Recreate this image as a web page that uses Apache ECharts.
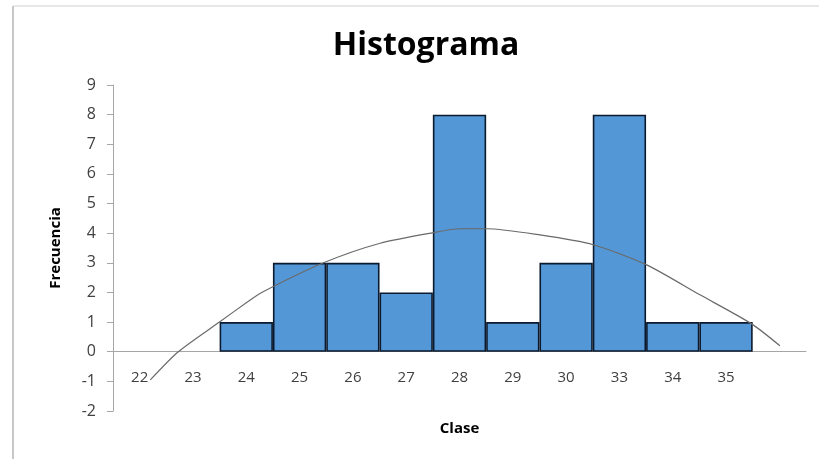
<!DOCTYPE html>
<html>
<head>
<meta charset="utf-8">
<script src="https://cdn.jsdelivr.net/npm/echarts@6/dist/echarts.min.js"></script>
<style>
  html, body { margin: 0; padding: 0; background: #fff; }
  #chart_container { width: 819px; height: 459px; }
</style>
</head>
<body>
<div id="chart_container"></div>
<script>
"use strict";

// histogram data
const clases = ['22', '23', '24', '25', '26', '27', '28', '29', '30', '33', '34', '35', ''];
const frecuencias = [0, 0, 1, 3, 3, 2, 8, 1, 3, 8, 1, 1, null];
const yTicks = { min: -2, max: 9, step: 1 };

// fitted curve, [category position, value]
const curvaX = [0.2, 0.725, 1.51, 2.04, 2.29, 3.45, 4.51, 5.51, 6.01, 6.51, 7.51, 8.51, 9.51, 10.51, 11.48, 12.01];
const curvaY = [-0.95, 0, 1.02, 1.7, 2.0, 3.0, 3.66, 4.02, 4.15, 4.15, 3.94, 3.61, 2.93, 1.92, 0.94, 0.2];

const txt = '#404040';
const fontFam = '"Open Sans", "Noto Sans", sans-serif';

let optEchart = {
    animation: false,
    backgroundColor: '#fff',
    title: {
        text: 'Histograma',
        left: 421, top: 25, textAlign: 'center',
        textStyle: { fontFamily: fontFam, fontSize: 32, fontWeight: 'bold', color: '#000' }
    },
    graphic: [
        { type: 'line', shape: { x1: 13, y1: 6, x2: 13, y2: 459 }, style: { stroke: '#c8c8c8', lineWidth: 2 } },
        { type: 'line', shape: { x1: 13, y1: 6, x2: 819, y2: 6 }, style: { stroke: '#d0d0d0', lineWidth: 1 } }
    ],
    grid: { left: 113, right: 13, top: 85, bottom: 48, outerBoundsMode: 'none', containLabel: false },
    xAxis: [{
        type: 'category',
        data: clases,
        name: 'Clase',
        nameLocation: 'middle',
        nameGap: 10,
        nameTextStyle: { fontFamily: fontFam, fontSize: 15, fontWeight: 'bold', color: '#000' },
        axisLine: { onZero: true, lineStyle: { color: '#a6a6a6', width: 1 } },
        axisTick: { show: false },
        axisLabel: { margin: -41, fontFamily: fontFam, fontSize: 15, color: txt, interval: 0 },
        splitLine: { show: false }
    }, {
        type: 'value',
        min: -0.5, max: 12.5,
        show: false
    }],
    yAxis: {
        type: 'value',
        min: yTicks.min, max: yTicks.max, interval: yTicks.step,
        name: 'Frecuencia',
        nameLocation: 'middle',
        nameGap: 50,
        nameRotate: 90,
        nameTextStyle: { fontFamily: fontFam, fontSize: 15, fontWeight: 'bold', color: '#000' },
        axisLine: { show: true, onZero: false, lineStyle: { color: '#a6a6a6' } },
        axisTick: { show: true, length: 6, lineStyle: { color: '#a6a6a6' } },
        axisLabel: { margin: 17, fontFamily: fontFam, fontSize: 16, color: txt },
        splitLine: { show: false }
    },
    series: [{
        type: 'bar',
        data: frecuencias.map(v => (v === 0 ? null : v)),
        xAxisIndex: 0,
        barCategoryGap: 0,
        itemStyle: { color: '#5497d6', borderColor: '#0b1a2e', borderWidth: 1.6 }
    }, {
        type: 'line',
        xAxisIndex: 1,
        data: curvaX.map((x, i) => [x, curvaY[i]]),
        smooth: 0.25,
        showSymbol: false,
        lineStyle: { color: '#6a6a6a', width: 1.2 },
        z: 5
    }]
};

let pageLoaded = () => {
    let chartDom = document.getElementById('chart_container');
    let myChart = echarts.init(chartDom);
    optEchart && myChart.setOption(optEchart);
};

window.addEventListener('load', pageLoaded, false);
</script>
</body>
</html>
